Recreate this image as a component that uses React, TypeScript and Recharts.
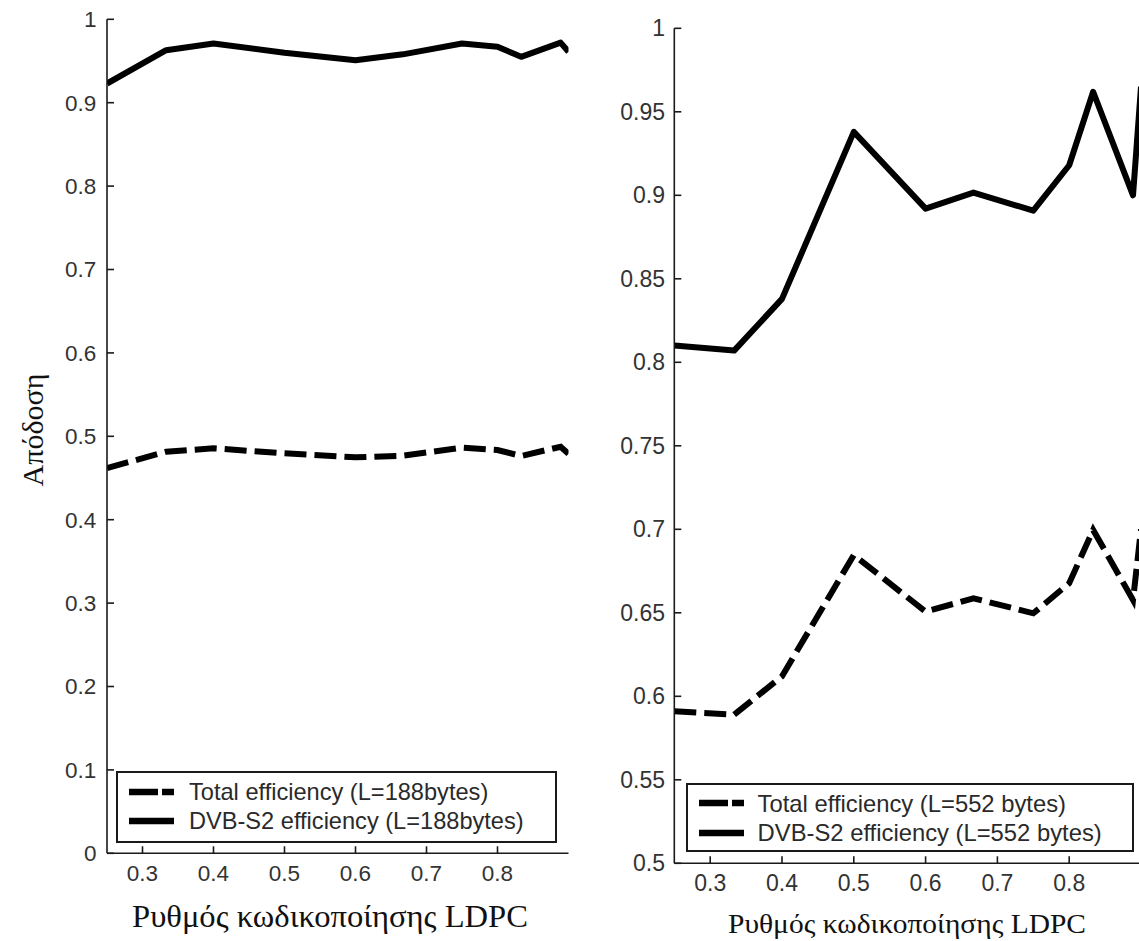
import React from 'react';
import { LineChart, Line, XAxis, YAxis, Legend, Label } from 'recharts';

// LDPC code rates used by DVB-S2 (1/4 … 9/10)
const codeRates = [0.25, 1 / 3, 0.4, 0.5, 0.6, 2 / 3, 0.75, 0.8, 5 / 6, 8 / 9, 0.9];

// Packet length L = 188 bytes
const totalEff188 = [0.462, 0.4815, 0.4856, 0.4796, 0.4748, 0.4767, 0.4863, 0.4836, 0.4764, 0.4875, 0.479];
const dvbS2Eff188 = [0.923, 0.963, 0.971, 0.96, 0.951, 0.958, 0.971, 0.967, 0.955, 0.972, 0.961];

// Packet length L = 552 bytes
const totalEff552 = [0.591, 0.589, 0.612, 0.6846, 0.6507, 0.6587, 0.6497, 0.6677, 0.6996, 0.6577, 0.7];
const dvbS2Eff552 = [0.81, 0.807, 0.838, 0.938, 0.892, 0.9016, 0.8908, 0.918, 0.962, 0.9, 0.965];

const xTicks = [0.3, 0.4, 0.5, 0.6, 0.7, 0.8];
const yTicks188 = [0, 0.1, 0.2, 0.3, 0.4, 0.5, 0.6, 0.7, 0.8, 0.9, 1];
const yTicks552 = [0.5, 0.55, 0.6, 0.65, 0.7, 0.75, 0.8, 0.85, 0.9, 0.95, 1];

const legend188 = ['Total efficiency (L=188bytes)', 'DVB-S2 efficiency (L=188bytes)'];
const legend552 = ['Total efficiency (L=552 bytes)', 'DVB-S2 efficiency (L=552 bytes)'];

const xTitle = 'Ρυθμός κωδικοποίησης LDPC';
const yTitle = 'Απόδοση';

const SANS = '"Liberation Sans", Arial, Helvetica, sans-serif';
const SERIF = '"Liberation Serif", "Times New Roman", serif';
const INK = '#1a1a1a';

const buildRows = (total: number[], dvb: number[]) =>
  codeRates.map((rate, i) => ({ rate, total: total[i], dvb: dvb[i] }));

type LegendBox = { left: number; top: number; width: number; height: number; padTop: number; rowH: number; textX: number; sampleX: number; fontSize: number };

const makeLegend = (labels: string[], box: LegendBox) => () => (
  <div
    style={{
      width: box.width,
      height: box.height,
      boxSizing: 'border-box',
      border: `2px solid ${INK}`,
      background: '#fff',
      paddingTop: box.padTop,
      fontFamily: SANS,
      fontSize: box.fontSize,
      color: '#2a2a2a',
      position: 'relative',
    }}
  >
    {labels.map((label, i) => (
      <div key={label} style={{ position: 'relative', height: box.rowH, lineHeight: `${box.rowH}px`, whiteSpace: 'nowrap' }}>
        <svg width={45} height={10} style={{ position: 'absolute', left: box.sampleX, top: box.rowH / 2 - 5 }}>
          <line
            x1={0}
            y1={5}
            x2={45}
            y2={5}
            stroke="#000"
            strokeWidth={6.5}
            strokeDasharray={i === 0 ? '29 4' : undefined}
          />
        </svg>
        <span style={{ position: 'absolute', left: box.textX }}>{label}</span>
      </div>
    ))}
  </div>
);

type PanelProps = {
  chartLeft: number;
  chartWidth: number;
  plotLeft: number;
  plotRight: number;
  plotTop: number;
  plotBottom: number;
  yDomain: [number, number];
  yTicks: number[];
  rows: { rate: number; total: number; dvb: number }[];
  labels: string[];
  legend: LegendBox;
  tickFont: number;
  xTickMargin: number;
  yTickMargin: number;
  titleX: number;
  titleY: number;
  titleSize: number;
  titleWidth: number;
  showYTitle?: boolean;
};

function Panel(p: PanelProps) {
  const yAxisW = 60;
  const xAxisH = 40;
  const H = 941;
  const margin = {
    top: p.plotTop,
    left: p.plotLeft - p.chartLeft - yAxisW,
    right: p.chartLeft + p.chartWidth - p.plotRight,
    bottom: H - p.plotBottom - xAxisH,
  };
  const axisLine = { stroke: INK, strokeWidth: 1.6 };
  const tickStyle = { fill: '#333', fontSize: p.tickFont, fontFamily: SANS };
  return (
    <div style={{ position: 'absolute', left: p.chartLeft, top: 0 }}>
      <LineChart width={p.chartWidth} height={H} data={p.rows} margin={margin}>
        <XAxis
          dataKey="rate"
          type="number"
          domain={[0.25, 0.9]}
          ticks={xTicks}
          allowDataOverflow
          height={xAxisH}
          tickSize={-7}
          tickMargin={p.xTickMargin}
          axisLine={axisLine}
          tickLine={axisLine}
          tick={tickStyle}
          interval={0}
        >
          <Label
            content={() => (
              <text
                x={p.titleX - p.chartLeft}
                y={p.titleY}
                textAnchor="middle"
                fontFamily={SERIF}
                fontSize={p.titleSize}
                textLength={p.titleWidth}
                lengthAdjust="spacingAndGlyphs"
                fill="#111"
              >
                {xTitle}
              </text>
            )}
          />
        </XAxis>
        <XAxis
          xAxisId="top"
          orientation="top"
          type="number"
          domain={[0.25, 0.9]}
          ticks={xTicks}
          allowDataOverflow
          height={0}
          tickSize={-7}
          axisLine={axisLine}
          tickLine={axisLine}
          tick={false}
          interval={0}
        />
        <YAxis
          type="number"
          domain={p.yDomain}
          ticks={p.yTicks}
          allowDataOverflow
          width={yAxisW}
          tickSize={-7}
          tickMargin={p.yTickMargin}
          axisLine={axisLine}
          tickLine={axisLine}
          tick={tickStyle}
          interval={0}
        >
          {p.showYTitle && (
            <Label
              content={() => (
                <text
                  x={32}
                  y={430}
                  transform="rotate(-90 32 430)"
                  textAnchor="middle"
                  dominantBaseline="central"
                  fontFamily={SERIF}
                  fontSize={30}
                  fill="#111"
                >
                  {yTitle}
                </text>
              )}
            />
          )}
        </YAxis>
        <YAxis
          yAxisId="right"
          orientation="right"
          type="number"
          domain={p.yDomain}
          ticks={p.yTicks}
          allowDataOverflow
          width={0}
          tickSize={-7}
          axisLine={axisLine}
          tickLine={axisLine}
          tick={false}
          interval={0}
        />
        <Line
          dataKey="total"
          name={p.labels[0]}
          type="linear"
          stroke="#000"
          strokeWidth={6}
          strokeDasharray="22 8"
          strokeLinecap="butt"
          strokeLinejoin="miter"
          dot={false}
          activeDot={false}
          isAnimationActive={false}
        />
        <Line
          dataKey="dvb"
          name={p.labels[1]}
          type="linear"
          stroke="#000"
          strokeWidth={6}
          strokeLinejoin="round"
          dot={false}
          activeDot={false}
          isAnimationActive={false}
        />
        <Legend
          layout="horizontal"
          verticalAlign="middle"
          align="center"
          content={makeLegend(p.labels, p.legend)}
          wrapperStyle={{
            left: p.legend.left - p.chartLeft,
            top: p.legend.top,
            width: p.legend.width,
            height: p.legend.height,
          }}
        />
      </LineChart>
    </div>
  );
}

export default function App() {
  return (
    <div
      style={{
        position: 'absolute',
        left: 0,
        top: 0,
        width: 1139,
        height: 941,
        overflow: 'hidden',
        background: '#fff',
      }}
    >
      <Panel
        chartLeft={0}
        chartWidth={600}
        plotLeft={107}
        plotRight={568.5}
        plotTop={19.3}
        plotBottom={853.3}
        yDomain={[0, 1]}
        yTicks={yTicks188}
        rows={buildRows(totalEff188, dvbS2Eff188)}
        labels={legend188}
        legend={{ left: 116, top: 771, width: 441, height: 72, padTop: 5, rowH: 28.5, sampleX: 11, textX: 71, fontSize: 23.6 }}
        tickFont={22.5}
        xTickMargin={18.7}
        yTickMargin={17.6}
        titleX={330}
        titleY={927}
        titleSize={31}
        titleWidth={396}
        showYTitle
      />
      <Panel
        chartLeft={600}
        chartWidth={580}
        plotLeft={674.3}
        plotRight={1141}
        plotTop={28.3}
        plotBottom={863.3}
        yDomain={[0.5, 1]}
        yTicks={yTicks552}
        rows={buildRows(totalEff552, dvbS2Eff552)}
        labels={legend552}
        legend={{ left: 685.6, top: 783.3, width: 448, height: 68.5, padTop: 3.5, rowH: 29.3, sampleX: 11, textX: 70, fontSize: 23.8 }}
        tickFont={23}
        xTickMargin={18.7}
        yTickMargin={16.3}
        titleX={907}
        titleY={933}
        titleSize={28}
        titleWidth={358}
      />
    </div>
  );
}
